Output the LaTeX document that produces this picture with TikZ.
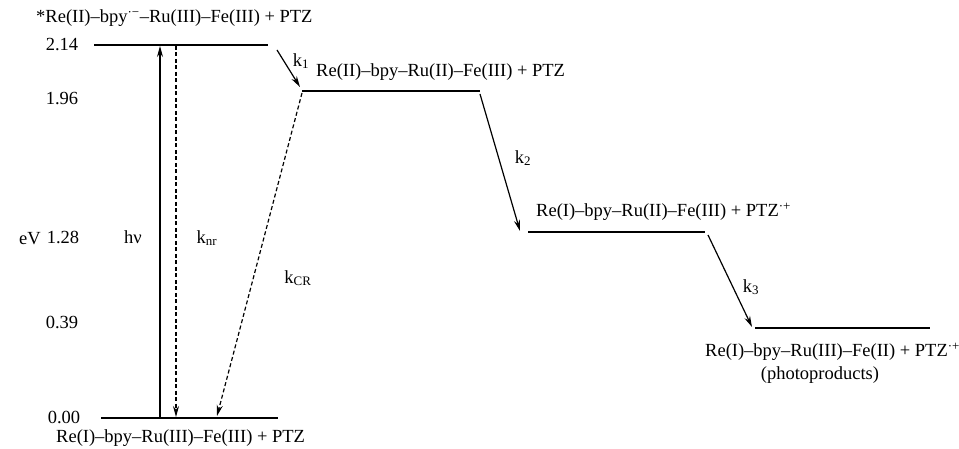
\documentclass[tikz,border=0pt]{standalone}
\usepackage{fontspec}
\setmainfont{Liberation Serif}
\usetikzlibrary{arrows.meta}
\begin{document}
\begin{tikzpicture}[x=1pt,y=-1pt,
  level/.style={line width=1.7pt},
  txt/.style={font=\fontsize{18.5}{21}\selectfont, inner sep=0pt},
  arr/.style={line width=1.2pt,-{Stealth[length=11pt,width=6pt]}},
  darr/.style={arr,dash pattern=on 4pt off 2.5pt}]
\useasboundingbox (0,0) rectangle (959,449);
% level endpoints
\coordinate (a1) at (94,45);  \coordinate (a2) at (268,45);
\coordinate (b1) at (302,91); \coordinate (b2) at (480,91);
\coordinate (c1) at (528,232);\coordinate (c2) at (705,232);
\coordinate (d1) at (755,328);\coordinate (d2) at (930,328);
\coordinate (g1) at (101,418);\coordinate (g2) at (278,418);
\draw[level] (a1) -- (a2);
\draw[level] (b1) -- (b2);
\draw[level] (c1) -- (c2);
\draw[level] (d1) -- (d2);
\draw[level] (g1) -- (g2);
% axis labels
\node[txt] (v1) at (62,45) {2.14};
\node[txt] (v2) at (62,99) {1.96};
\node[txt] (v3) at (63,237) {1.28};
\node[txt] (v4) at (62,322) {0.39};
\node[txt] (v5) at (64,417) {0.00};
\node[txt] (ev) at (30,239) {eV};
% state labels
\node[txt,anchor=west] (sA) at (36,18) {*Re(II)–bpy\textsuperscript{·−}–Ru(III)–Fe(III) + PTZ};
\node[txt,anchor=west] (sB) at (316,72) {Re(II)–bpy–Ru(II)–Fe(III) + PTZ};
\node[txt,anchor=west] (sC) at (536,212) {Re(I)–bpy–Ru(II)–Fe(III) + PTZ\textsuperscript{·+}};
\node[txt,anchor=west] (sD) at (705,352) {Re(I)–bpy–Ru(III)–Fe(II) + PTZ\textsuperscript{·+}};
\node[txt] (sP) at (820,375) {(photoproducts)};
\node[txt,anchor=west] (sG) at (56,438) {Re(I)–bpy–Ru(III)–Fe(III) + PTZ};
% arrows
\coordinate (hvb) at (160,418); \coordinate (hvt) at (160,46);
\draw[arr] (hvb) -- (hvt);
\coordinate (nrt) at (176,46); \coordinate (nrb) at (176,417);
\draw[darr] (nrt) -- (nrb);
\coordinate (crt) at (302,93); \coordinate (crb) at (217,416);
\draw[darr] (crt) -- (crb);
\coordinate (k1s) at (277,50); \coordinate (k1e) at (300,87);
\draw[arr] (k1s) -- (k1e);
\coordinate (k2s) at (480,94); \coordinate (k2e) at (520,231);
\draw[arr] (k2s) -- (k2e);
\coordinate (k3s) at (708,235); \coordinate (k3e) at (752,327);
\draw[arr] (k3s) -- (k3e);
% rate labels
\node[txt] (lhv) at (133,237) {hν};
\node[txt] (lnr) at (207,238) {k\textsubscript{nr}};
\node[txt] (lcr) at (298,278) {k\textsubscript{CR}};
\node[txt] (lk1) at (301,61) {k\textsubscript{1}};
\node[txt] (lk2) at (523,158) {k\textsubscript{2}};
\node[txt] (lk3) at (751,287) {k\textsubscript{3}};
\end{tikzpicture}
\end{document}
